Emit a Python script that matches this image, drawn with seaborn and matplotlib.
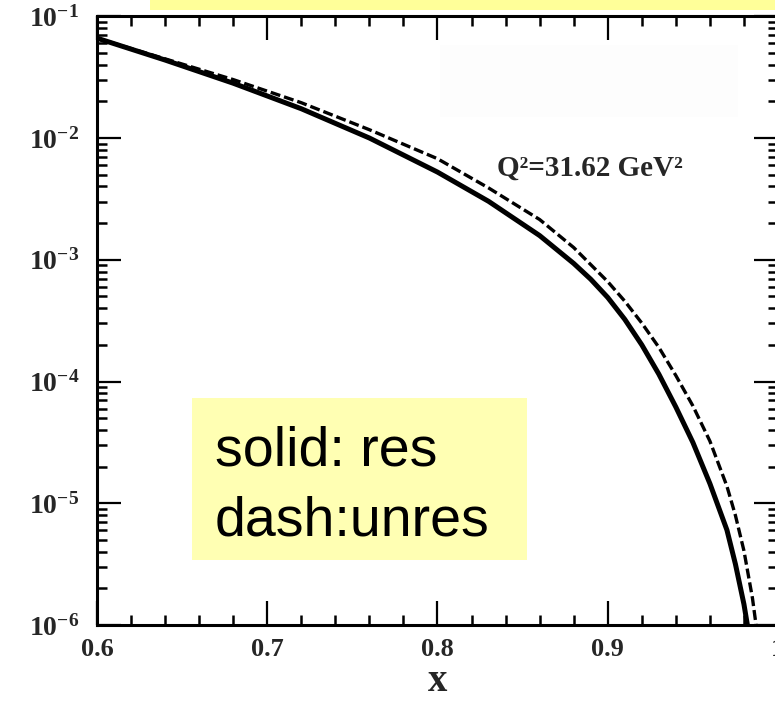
import matplotlib
matplotlib.use("Agg")
import matplotlib.pyplot as plt
import seaborn as sns
import pandas as pd
from matplotlib.patches import Rectangle
from matplotlib.ticker import FixedLocator, LogLocator, MultipleLocator, NullFormatter

# Resummed (solid) and unresummed (dashed) structure function vs x at Q^2 = 31.62 GeV^2
x_res = [0.60, 0.64, 0.68, 0.72, 0.76, 0.80, 0.83, 0.86, 0.88, 0.89, 0.90,
         0.91, 0.92, 0.93, 0.94, 0.95, 0.96, 0.97, 0.975, 0.98, 0.985]
y_res = [6.61e-2, 4.37e-2, 2.82e-2, 1.74e-2, 1.00e-2, 5.25e-3, 3.02e-3,
         1.58e-3, 9.33e-4, 6.92e-4, 4.90e-4, 3.24e-4, 2.00e-4, 1.15e-4,
         6.17e-5, 3.16e-5, 1.45e-5, 6.03e-6, 3.16e-6, 1.48e-6, 5.6e-7]

x_unres = [0.60, 0.64, 0.68, 0.72, 0.76, 0.80, 0.83, 0.86, 0.88, 0.90, 0.91,
           0.92, 0.93, 0.94, 0.95, 0.96, 0.97, 0.975, 0.98, 0.985, 0.99]
y_unres = [6.61e-2, 4.47e-2, 3.02e-2, 1.95e-2, 1.17e-2, 6.76e-3, 3.89e-3,
           2.14e-3, 1.26e-3, 6.61e-4, 4.57e-4, 3.02e-4, 1.91e-4, 1.12e-4,
           6.31e-5, 3.24e-5, 1.38e-5, 7.94e-6, 4.07e-6, 1.66e-6, 5.0e-7]

x_ticks = [0.6, 0.7, 0.8, 0.9, 1.0]
x_tick_labels = ["0.6", "0.7", "0.8", "0.9", "1"]
y_ticks = [1e-1, 1e-2, 1e-3, 1e-4, 1e-5, 1e-6]
y_tick_labels = [r"$\mathbf{10^{-1}}$", r"$\mathbf{10^{-2}}$", r"$\mathbf{10^{-3}}$",
                 r"$\mathbf{10^{-4}}$", r"$\mathbf{10^{-5}}$", r"$\mathbf{10^{-6}}$"]

q2_label = "Q²=31.62 GeV²"
x_label = "x"
legend_lines = ["solid: res", "dash:unres"]

sns.set_style("ticks")
plt.rcParams["font.family"] = ["Liberation Serif", "DejaVu Serif"]
plt.rcParams["mathtext.fontset"] = "custom"
plt.rcParams["mathtext.bf"] = "Liberation Serif:bold"
plt.rcParams["mathtext.rm"] = "Liberation Serif:bold"

fig = plt.figure(figsize=(7.75, 7.03), dpi=100)
ax = fig.add_axes([0.12516, 0.11095, 0.87871, 0.8659])

res = pd.DataFrame({"x": x_res, "y": y_res})
unres = pd.DataFrame({"x": x_unres, "y": y_unres})

sns.lineplot(data=res, x="x", y="y", ax=ax, color="black", linewidth=3.6,
             estimator=None, sort=False)
sns.lineplot(data=unres, x="x", y="y", ax=ax, color="black", linewidth=2.4,
             linestyle=(0, (3, 1.2)), estimator=None, sort=False)

ax.set_yscale("log")
ax.set_xlim(0.6, 1.0)
ax.set_ylim(1e-6, 1e-1)

ax.xaxis.set_major_locator(FixedLocator(x_ticks))
ax.set_xticklabels(x_tick_labels, fontsize=19, fontweight="bold")
ax.xaxis.set_minor_locator(MultipleLocator(0.02))

ax.yaxis.set_major_locator(FixedLocator(y_ticks))
ax.set_yticklabels(y_tick_labels, fontsize=20)
ax.yaxis.set_minor_locator(LogLocator(base=10, subs=range(2, 10), numticks=20))
ax.yaxis.set_minor_formatter(NullFormatter())

ax.tick_params(which="both", direction="in", top=True, right=True, color="black")
ax.tick_params(which="major", length=17, width=1.6)
ax.tick_params(which="minor", length=7, width=1.8)
ax.tick_params(axis="x", which="major", pad=9)
ax.tick_params(axis="y", which="major", pad=13)

for side in ax.spines.values():
    side.set_linewidth(2.2)
    side.set_color("black")
    side.set_visible(True)

ax.set_xlabel(x_label, fontsize=28, fontweight="bold", labelpad=2)
ax.set_ylabel("")

ax.text(0.835, 5.7e-3, q2_label, fontsize=21, fontweight="bold",
        ha="left", va="center")

# faint panel in the upper right of the frame
fig.add_artist(Rectangle((440 / 775, 1 - 117 / 703), 298 / 775, 72 / 703,
                         transform=fig.transFigure, facecolor="#fdfdfd",
                         edgecolor="none", zorder=0.5))

# yellow banner along the top edge
fig.add_artist(Rectangle((150 / 775, 1 - 10 / 703), 625 / 775, 10 / 703,
                         transform=fig.transFigure, facecolor="#ffff99",
                         edgecolor="none", zorder=6))

# annotation box describing the line styles
fig.add_artist(Rectangle((192 / 775, 1 - 560 / 703), 335 / 775, 162 / 703,
                         transform=fig.transFigure, facecolor="#ffffb3",
                         edgecolor="none", zorder=6))
fig.text(215 / 775, 1 - 465 / 703, legend_lines[0], fontsize=40,
         family=["Liberation Sans", "DejaVu Sans"], ha="left", va="baseline",
         color="black", zorder=7)
fig.text(215 / 775, 1 - 535 / 703, legend_lines[1], fontsize=40,
         family=["Liberation Sans", "DejaVu Sans"], ha="left", va="baseline",
         color="black", zorder=7)

fig.savefig("out.png", dpi=100)
